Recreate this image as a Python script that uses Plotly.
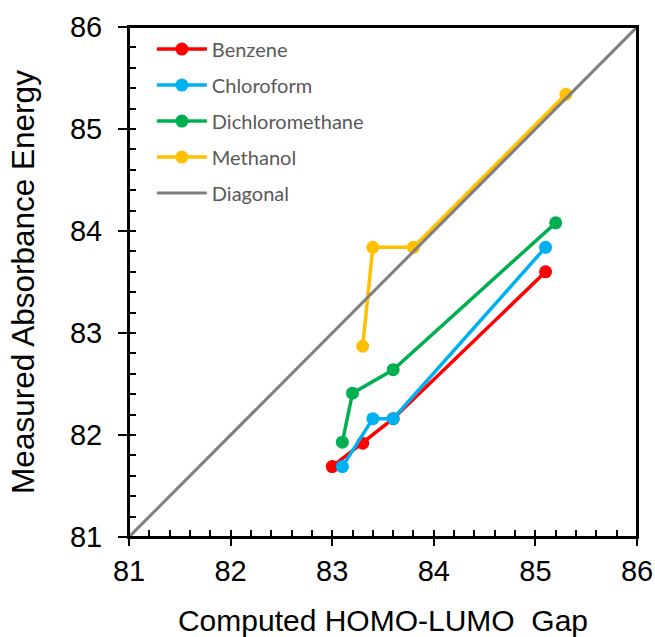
import plotly.graph_objects as go

benzene_x = [83.0, 83.3, 83.6, 85.1]
benzene_y = [81.69, 81.92, 82.16, 83.6]
chloroform_x = [83.1, 83.4, 83.6, 85.1]
chloroform_y = [81.69, 82.16, 82.16, 83.84]
dcm_x = [83.1, 83.2, 83.6, 85.2]
dcm_y = [81.93, 82.41, 82.64, 84.08]
methanol_x = [83.3, 83.4, 83.8, 85.3]
methanol_y = [82.87, 83.84, 83.84, 85.34]
diag_x = [81, 86]
diag_y = [81, 86]

series = [
    ("Benzene", benzene_x, benzene_y, "#FF0000"),
    ("Chloroform", chloroform_x, chloroform_y, "#00B0F0"),
    ("Dichloromethane", dcm_x, dcm_y, "#00B050"),
    ("Methanol", methanol_x, methanol_y, "#FFC000"),
]

fig = go.Figure()
for name, xs, ys, c in series:
    fig.add_trace(go.Scatter(x=xs, y=ys, name=name, mode="lines+markers",
                             legendgroup=name,
                             line=dict(color=c, width=3.5),
                             marker=dict(color=c, size=13)))
fig.add_trace(go.Scatter(x=diag_x, y=diag_y, name="Diagonal", mode="lines",
                         legendgroup="Diagonal",
                         line=dict(color="#7F7F7F", width=3)))
fig.add_trace(go.Scatter(x=[81], y=[81], mode="none", showlegend=False,
                         hoverinfo="skip", xaxis="x2", yaxis="y2"))

tick_font = dict(family="Liberation Sans, Arial", size=29, color="black")
xtitle_font = dict(family="Liberation Sans, Arial", size=30, color="black")
ytitle_font = dict(family="Liberation Sans, Arial", size=31.5, color="black")
fig.update_layout(
    width=655, height=637,
    margin=dict(l=129, r=18, t=27, b=100, autoexpand=False),
    plot_bgcolor="white", paper_bgcolor="white",
    showlegend=True,
    legend=dict(x=0.045, y=0.995, xanchor="left", yanchor="top",
                bgcolor="rgba(0,0,0,0)",
                font=dict(family="Lato", size=20, color="#595959"),
                itemwidth=50, tracegroupgap=7),
    xaxis=dict(range=[81, 86], dtick=1, tick0=81, showgrid=False, zeroline=False,
               showline=True, linecolor="black", linewidth=2, mirror=True,
               ticks="outside", ticklen=7, tickwidth=2, tickcolor="black",
               tickfont=tick_font, automargin=True,
               title=dict(text="Computed HOMO-LUMO  Gap", font=xtitle_font, standoff=32)),
    yaxis=dict(range=[81, 86], dtick=1, tick0=81, showgrid=False, zeroline=False,
               showline=True, linecolor="black", linewidth=2, mirror=True,
               ticks="outside", ticklen=9, tickwidth=2, tickcolor="black",
               tickfont=tick_font, automargin=True, ticklabelstandoff=10,
               title=dict(text="Measured Absorbance Energy", font=ytitle_font, standoff=26)),
    xaxis2=dict(range=[81, 86], overlaying="x", dtick=0.2, tick0=81, showgrid=False,
                zeroline=False, showline=False, ticks="inside", ticklen=7, tickwidth=2,
                tickcolor="black", showticklabels=False, side="bottom", automargin=False),
    yaxis2=dict(range=[81, 86], overlaying="y", dtick=0.2, tick0=81, showgrid=False,
                zeroline=False, showline=False, ticks="inside", ticklen=7, tickwidth=2,
                tickcolor="black", showticklabels=False, side="left", automargin=False),
    shapes=[dict(type="rect", xref="paper", yref="paper", x0=0, y0=0, x1=1, y1=1,
                 line=dict(color="black", width=2), layer="above")],
)

fig.write_html("out.html")
